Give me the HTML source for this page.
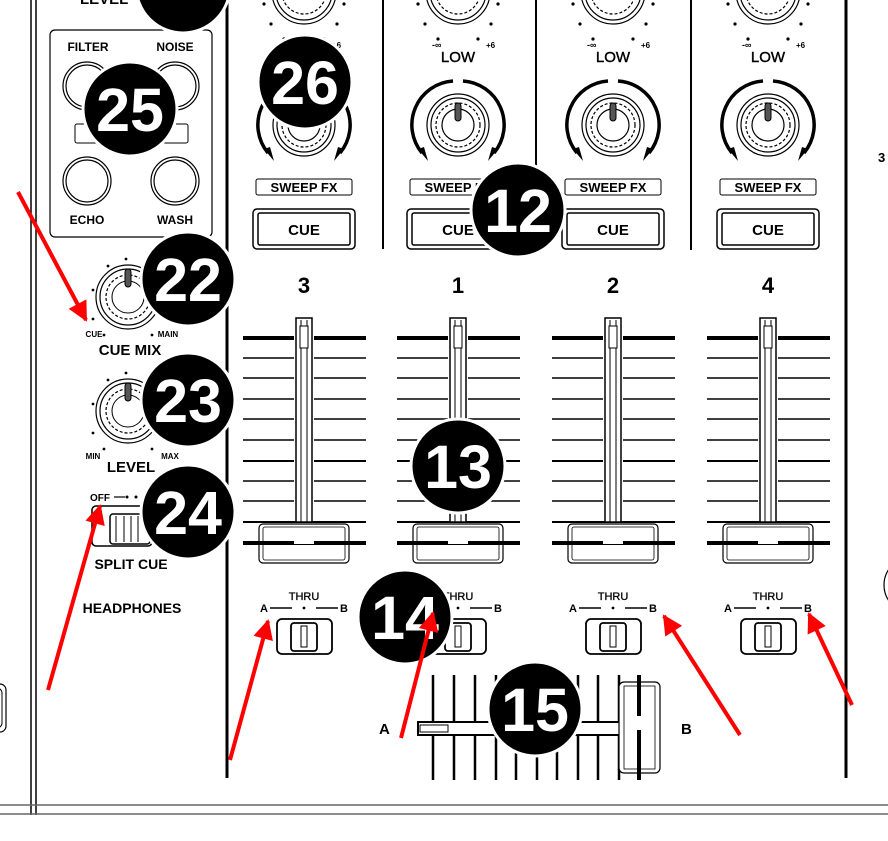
<!DOCTYPE html>
<html><head><meta charset="utf-8"><style>
html,body{margin:0;padding:0;background:#fff;}
svg{display:block;}
text{font-family:"Liberation Sans",Arial,sans-serif;font-weight:bold;fill:#000;}
.b{fill:#fff;font-size:61px;font-weight:bold;}
</style></head><body>
<svg width="888" height="841" viewBox="0 0 888 841" xmlns="http://www.w3.org/2000/svg">
<defs>
  <g id="sweep">
    <path d="M-5,-44 A44,44 0 0 0 -36,28" fill="none" stroke="#000" stroke-width="3.5"/>
    <path d="M5,-44 A44,44 0 0 1 36,28" fill="none" stroke="#000" stroke-width="3.5"/>
    <path d="M-40,24 L-30,36 L-34,22 Z M40,24 L30,36 L34,22 Z" fill="#000"/>
    <circle r="31" fill="none" stroke="#000" stroke-width="1.2"/>
    <circle r="27" fill="none" stroke="#000" stroke-width="1.2"/>
    <circle r="22" fill="none" stroke="#000" stroke-width="1.2" stroke-dasharray="3 2"/>
    <circle r="16" fill="none" stroke="#000" stroke-width="1.2"/>
    <rect x="-3" y="-22" width="6" height="18" rx="3" fill="#555" stroke="#000"/>
  </g>
  <g id="topknob">
    <circle cy="-8" r="32" fill="none" stroke="#000" stroke-width="1.2"/>
    <circle cy="-8" r="28" fill="none" stroke="#000" stroke-width="1.2"/>
    <circle cy="-8" r="22" fill="none" stroke="#000" stroke-width="1.2" stroke-dasharray="3 2"/>
    <circle cx="-40" cy="4" r="1.6"/><circle cx="40" cy="4" r="1.6"/>
    <circle cx="-33" cy="24" r="1.6"/><circle cx="33" cy="24" r="1.6"/>
    <circle cx="-20" cy="39" r="1.6"/><circle cx="20" cy="39" r="1.6"/>
  </g>
  <g id="fader">
    <g stroke="#000">
      <line x1="-61" y1="338" x2="-10" y2="338" stroke-width="4"/><line x1="10" y1="338" x2="62" y2="338" stroke-width="4"/>
      <path d="M-61,358H-10M10,358H62M-61,378H-10M10,378H62M-61,399H-10M10,399H62M-61,419H-10M10,419H62M-61,440H-10M10,440H62M-61,481H-10M10,481H62M-61,501H-10M10,501H62" stroke-width="1.5"/>
      <path d="M-61,461H-10M10,461H62M-61,522H62" stroke-width="2"/>
      <line x1="-61" y1="543" x2="62" y2="543" stroke-width="4"/>
    </g>
    <rect x="-8" y="318" width="16" height="204" fill="#fff" stroke="#000" stroke-width="1.5"/>
    <line x1="-3" y1="320" x2="-3" y2="522" stroke="#000"/><line x1="3" y1="320" x2="3" y2="522" stroke="#000"/>
    <rect x="-4" y="326" width="8" height="22" fill="#fff" stroke="#000"/>
    <rect x="-45" y="524" width="90" height="39" rx="4" fill="none" stroke="#000" stroke-width="1.2"/>
    <rect x="-41" y="527" width="82" height="33" rx="2" fill="none" stroke="#000" stroke-width="0.8"/>
    <line x1="-61" y1="543" x2="62" y2="543" stroke="#000" stroke-width="4"/>
    <rect x="-10" y="541" width="20" height="3" fill="#fff"/>
  </g>
  <g id="chan">
    <use href="#topknob"/>
    <text x="-26" y="48" font-size="9" font-weight="normal">-∞</text>
    <text x="28" y="48" font-size="8" font-weight="normal">+6</text>
    <text x="0" y="62" font-size="15" text-anchor="middle" style="font-weight:normal" stroke="#000" stroke-width="0.4">LOW</text>
    <use href="#sweep" y="125"/>
    <rect x="-48" y="179" width="96" height="16" rx="2" fill="#fff" stroke="#000" stroke-width="1"/>
    <text x="0" y="192" font-size="13" text-anchor="middle">SWEEP FX</text>
    <rect x="-51" y="209" width="102" height="40" rx="4" fill="#fff" stroke="#000" stroke-width="1.5"/>
    <rect x="-46" y="213" width="92" height="32" rx="2" fill="none" stroke="#000" stroke-width="1.5"/>
    <text x="0" y="235" font-size="15" text-anchor="middle">CUE</text>
    <use href="#fader"/>
    <text x="0" y="600" font-size="11" text-anchor="middle" style="font-weight:normal" stroke="#000" stroke-width="0.3">THRU</text>
    <text x="-40" y="612" font-size="11" text-anchor="middle">A</text>
    <text x="40" y="612" font-size="11" text-anchor="middle">B</text>
    <path d="M-34,608H-12M12,608H34" stroke="#000" stroke-width="1.5"/>
    <circle cx="0" cy="608" r="1.4"/>
    <rect x="-27" y="619" width="55" height="35" rx="5" fill="#fff" stroke="#000" stroke-width="1.8"/>
    <rect x="-13" y="623" width="26" height="28" rx="3" fill="none" stroke="#000" stroke-width="1.8"/>
    <rect x="-3" y="626" width="6" height="21" fill="none" stroke="#000"/>
  </g>
  <g id="fxknob"><circle r="24" fill="#fff" stroke="#000" stroke-width="1.2"/><circle r="21" fill="none" stroke="#000" stroke-width="1.2"/></g>
  <g id="smknob">
    <circle r="32" fill="none" stroke="#000" stroke-width="1.2"/>
    <circle r="28" fill="none" stroke="#000" stroke-width="1.2"/>
    <circle r="22" fill="none" stroke="#000" stroke-width="1.2" stroke-dasharray="3 2"/>
    <circle r="16" fill="none" stroke="#000" stroke-width="1"/>
    <rect x="-3" y="-28" width="6" height="18" rx="3" fill="#555" stroke="#000"/>
    <circle cx="-35" cy="-7" r="1.4"/><circle cx="-35" cy="22" r="1.4"/><circle cx="-20" cy="-31" r="1.4"/><circle cx="-2" cy="-38" r="1.4"/>
    <circle cx="-24" cy="38" r="1.4"/><circle cx="24" cy="38" r="1.4"/>
  </g>
  <marker id="ah" viewBox="0 0 10 10" refX="9" refY="5" markerWidth="6" markerHeight="5" orient="auto" markerUnits="strokeWidth">
    <path d="M0,0 L10,5 L0,10 Z" fill="#f00"/>
  </marker>
</defs>

<g stroke="#000" fill="none">
  <line x1="31" y1="0" x2="31" y2="815" stroke-width="1.5"/>
  <line x1="36" y1="0" x2="36" y2="815" stroke-width="1.5"/>
  <line x1="227" y1="0" x2="227" y2="778" stroke-width="3"/>
  <line x1="846" y1="0" x2="846" y2="778" stroke-width="3"/>
  <line x1="383" y1="0" x2="383" y2="249" stroke-width="2"/>
  <line x1="536" y1="0" x2="536" y2="249" stroke-width="2"/>
  <line x1="691" y1="0" x2="691" y2="250" stroke-width="2"/>
  <line x1="0" y1="805" x2="888" y2="805" stroke="#666" stroke-width="1.5"/>
  <line x1="0" y1="814" x2="888" y2="814" stroke="#666" stroke-width="1.5"/>
  <rect x="-10" y="684" width="16" height="48" rx="6" stroke-width="1.2"/>
  <rect x="-10" y="688" width="12" height="40" rx="5" stroke-width="1"/>
  <circle cx="912" cy="585" r="28" stroke-width="1.2"/>
</g>
<text x="878" y="162" font-size="13" font-weight="normal">3</text>

<use href="#chan" x="304"/>
<use href="#chan" x="458"/>
<use href="#chan" x="613"/>
<use href="#chan" x="768"/>
<text x="304" y="293" font-size="22" text-anchor="middle">3</text>
<text x="458" y="293" font-size="22" text-anchor="middle">1</text>
<text x="613" y="293" font-size="22" text-anchor="middle">2</text>
<text x="768" y="293" font-size="22" text-anchor="middle">4</text>

<g stroke="#000" stroke-width="2.5">
  <path d="M433,675V780M454,675V780M475,675V780M496,675V780M516,675V780M537,675V780M557,675V780M578,675V780M598,675V780M619,675V780"/>
</g>
<rect x="418" y="722" width="204" height="13" fill="#fff" stroke="#000" stroke-width="2"/>
<rect x="420" y="725" width="28" height="7" fill="none" stroke="#000" stroke-width="1"/>
<rect x="619" y="682" width="41" height="91" rx="5" fill="#fff" stroke="#000" stroke-width="1.2"/>
<rect x="624" y="686" width="31" height="83" fill="none" stroke="#000" stroke-width="0.8"/>
<line x1="639" y1="675" x2="639" y2="780" stroke="#000" stroke-width="4"/>
<rect x="637" y="716" width="4" height="14" fill="#fff"/>
<text x="379" y="734" font-size="15">A</text>
<text x="681" y="734" font-size="15">B</text>

<text x="80" y="4" font-size="15">LEVEL</text>
<rect x="50" y="30" width="162" height="207" rx="5" fill="none" stroke="#000" stroke-width="1.2"/>
<text x="88" y="51" font-size="12" text-anchor="middle">FILTER</text>
<text x="175" y="51" font-size="12" text-anchor="middle">NOISE</text>
<use href="#fxknob" x="87" y="86"/><use href="#fxknob" x="175" y="86"/>
<rect x="75" y="124" width="113" height="19" rx="2" fill="#fff" stroke="#000"/>
<use href="#fxknob" x="87" y="181"/><use href="#fxknob" x="175" y="181"/>
<text x="87" y="224" font-size="12" text-anchor="middle">ECHO</text>
<text x="175" y="224" font-size="12" text-anchor="middle">WASH</text>

<use href="#smknob" x="128" y="297"/>
<text x="94" y="337" font-size="8" text-anchor="middle" font-weight="normal">CUE</text>
<text x="168" y="337" font-size="8" text-anchor="middle" font-weight="normal">MAIN</text>
<text x="130" y="355" font-size="15" text-anchor="middle">CUE MIX</text>
<use href="#smknob" x="128" y="411"/>
<text x="93" y="459" font-size="8" text-anchor="middle" font-weight="normal">MIN</text>
<text x="170" y="459" font-size="8" text-anchor="middle" font-weight="normal">MAX</text>
<text x="131" y="472" font-size="15" text-anchor="middle">LEVEL</text>
<text x="90" y="501" font-size="10">OFF</text>
<path d="M114,497H125" stroke="#000" stroke-width="1.2"/><circle cx="127" cy="497" r="1.5"/><circle cx="136" cy="497" r="1.5"/>
<rect x="92" y="506" width="60" height="40" rx="4" fill="#fff" stroke="#000" stroke-width="1.5"/>
<rect x="110" y="514" width="40" height="30" rx="3" fill="none" stroke="#000" stroke-width="1.5"/>
<path d="M116,516V542M124,516V542M131,516V542M138,516V542" stroke="#000"/>
<text x="131" y="569" font-size="14" text-anchor="middle">SPLIT CUE</text>
<text x="132" y="613" font-size="14" text-anchor="middle">HEADPHONES</text>

<g stroke="#fff" stroke-width="3">
  <circle cx="183" cy="-14" r="47"/>
  <circle cx="130" cy="109" r="47"/>
  <circle cx="305" cy="82" r="47"/>
  <circle cx="518" cy="210" r="47"/>
  <circle cx="188" cy="279" r="47"/>
  <circle cx="188" cy="400" r="47"/>
  <circle cx="188" cy="512" r="47"/>
  <circle cx="458" cy="466" r="47"/>
  <circle cx="405" cy="617" r="47"/>
  <circle cx="535" cy="709" r="47"/>
</g>
<g text-anchor="middle">
  <text class="b" x="130" y="131">25</text>
  <text class="b" x="305" y="104">26</text>
  <text class="b" x="518" y="232">12</text>
  <text class="b" x="188" y="301">22</text>
  <text class="b" x="188" y="422">23</text>
  <text class="b" x="188" y="534">24</text>
  <text class="b" x="458" y="488">13</text>
  <text class="b" x="405" y="639">14</text>
  <text class="b" x="535" y="731">15</text>
</g>

<g stroke="#f00" stroke-width="4" fill="none" marker-end="url(#ah)">
  <line x1="18" y1="192" x2="86" y2="320"/>
  <line x1="48" y1="690" x2="100" y2="506"/>
  <line x1="230" y1="760" x2="268" y2="621"/>
  <line x1="401" y1="738" x2="433" y2="613"/>
  <line x1="740" y1="735" x2="664" y2="616"/>
  <line x1="852" y1="705" x2="809" y2="614"/>
</g>
</svg>
</body></html>
